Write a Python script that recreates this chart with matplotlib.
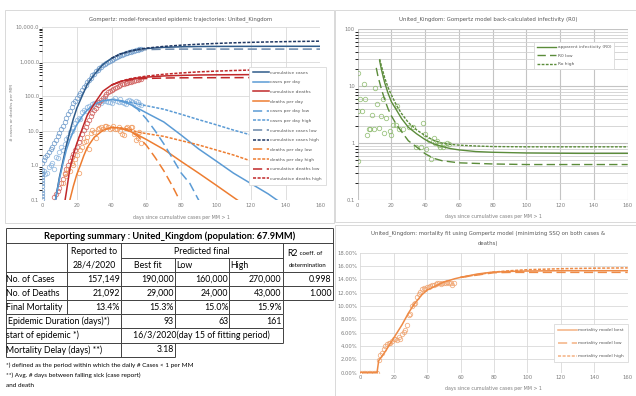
import numpy as np
import matplotlib
matplotlib.use('Agg')
from matplotlib import pyplot as plt
from matplotlib.ticker import FuncFormatter, FixedLocator, NullFormatter

W, H = 636, 396

# ---------------------------------------------------------------
# data (per MM values)
# ---------------------------------------------------------------
cum_cases_obs = [1.2, 1.4, 1.7, 2.0, 2.4, 2.9, 3.4, 4.3, 5.5, 7, 8.5, 11, 14, 18, 24,
                 30, 38, 50, 62, 75, 90, 110, 125, 150, 180, 210, 250, 290, 340, 400,
                 450, 520, 580, 640, 710, 790, 860, 930, 1000, 1070, 1140, 1210, 1290,
                 1370, 1440, 1510, 1580, 1650, 1720, 1790, 1860, 1930, 2000, 2060, 2120,
                 2180, 2240, 2310]
cases_day_obs = [0.6, 0.7, 0.55, 0.6, 0.9, 1.0, 1.2, 0.8, 1.8, 1.6, 2.4, 3.3, 2.8, 4.2,
                 5.8, 6.5, 9.5, 10, 12, 17, 20, 24, 22, 35, 40, 38, 48, 52, 45, 60, 62,
                 58, 70, 66, 62, 72, 85, 75, 66, 70, 62, 78, 86, 72, 66, 82, 70, 65, 60,
                 75, 80, 72, 68, 62, 74, 70, 58, 55]
day0_stack = [0.11, 0.13, 0.16, 0.2, 0.25, 0.3, 0.38, 0.47, 0.58, 0.75]
cum_deaths_obs = [0.12, 0.15, 0.18, 0.22, 0.3, 0.4, 0.55, 0.8, 1.0, 1.3, 1.7, 2.2, 2.8,
                  3.5, 4.6, 6, 8, 10.5, 13, 17, 21, 26, 32, 39, 46, 56, 66, 78, 90, 103,
                  116, 128, 141, 152, 165, 177, 188, 199, 210, 220, 229, 238, 248, 256,
                  265, 273, 282, 290, 297, 304, 310]          # days 7..57
deaths_day_obs = [0.3, 0.6, 0.5, 0.8, 0.7, 1.2, 1.0, 1.5, 2.0, 0.6, 2.8, 3.5, 4.8, 5.0,
                  6.5, 3.0, 8.5, 10.5, 9.0, 6.0, 11, 12, 13, 11.5, 13.5, 14, 12.5, 11,
                  12, 14, 11, 11.5, 12.5, 10, 8, 7.5, 12, 13, 11, 12.5, 13, 8, 5.5, 6,
                  9, 4.5]                                     # days 12..57

d_cc = [6, 8, 10, 12, 14, 16, 18, 20, 23, 26, 30, 35, 40, 45, 50, 55, 60, 70, 80, 90,
        100, 120, 140, 160]
cum_cases_best = [0.03, 0.12, 0.45, 1.3, 3.8, 9.5, 22, 45, 100, 220, 420, 820, 1250,
                  1650, 1950, 2200, 2380, 2580, 2680, 2730, 2750, 2760, 2770, 2770]
d_lh = [40, 45, 50, 55, 60, 70, 80, 90, 100, 110, 120, 130, 140, 150, 160]
cum_cases_low = [1250, 1640, 1920, 2120, 2220, 2280, 2300, 2300, 2300, 2300, 2300, 2300,
                 2300, 2300, 2300]
cum_cases_high = [1250, 1660, 1980, 2250, 2450, 2750, 2980, 3180, 3350, 3490, 3600,
                  3700, 3780, 3840, 3900]

d_cd = [12, 14, 16, 18, 20, 23, 26, 30, 35, 40, 45, 50, 55, 60, 70, 80, 90, 100, 120,
        140, 160]
cum_deaths_best = [0.04, 0.17, 0.8, 2.0, 4.3, 11, 28, 60, 140, 210, 265, 305, 335, 355,
                   385, 400, 410, 415, 420, 422, 423]
cum_deaths_low = [210, 262, 295, 315, 325, 335, 340, 342, 343, 344, 345, 345, 345, 345, 345]
cum_deaths_high = [210, 268, 315, 350, 380, 430, 470, 505, 530, 552, 570, 585, 598, 608, 615]

d_cpd = [6, 8, 10, 12, 14, 16, 18, 20, 23, 26, 30, 35, 40, 45, 50, 55, 60, 70, 80, 90,
         100, 110, 120, 130, 135, 140]
cases_day_best = [0.03, 0.12, 0.4, 1.1, 2.8, 5.5, 9.5, 15, 26, 40, 58, 74, 80, 74, 60,
                  45, 33, 18, 7.5, 3.0, 1.35, 0.6, 0.3, 0.15, 0.1, 0.07]
d_cpd_low = [45, 50, 55, 60, 65, 70, 75, 80, 85, 90, 92]
cases_day_low = [74, 62, 42, 22, 10, 4.2, 1.6, 0.6, 0.3, 0.1, 0.07]
d_cpd_high = [45, 50, 55, 60, 70, 80, 90, 100, 110, 120, 130, 140, 150, 160]
cases_day_high = [75, 68, 60, 53, 42, 30, 21, 15, 10.5, 7.6, 5.4, 3.9, 2.8, 2.0]

d_dpd = [14, 16, 18, 20, 22, 24, 26, 30, 35, 40, 45, 50, 55, 60, 70, 80, 90, 100, 110, 115]
deaths_day_best = [0.03, 0.1, 0.25, 0.55, 1.0, 1.9, 3.3, 6.5, 10.3, 12.5, 12, 10, 7.6,
                   5.6, 2.9, 1.3, 0.6, 0.27, 0.12, 0.08]
d_dpd_low = [45, 50, 55, 60, 65, 70, 75, 79, 82]
deaths_day_low = [11.8, 10, 7.0, 3.8, 1.7, 0.7, 0.25, 0.1, 0.06]
d_dpd_high = [45, 50, 55, 60, 70, 80, 90, 100, 110, 120, 130, 140, 150, 160]
deaths_day_high = [12.2, 11, 9.2, 8.3, 6.9, 5.2, 3.9, 2.8, 2.0, 1.35, 0.95, 0.67, 0.47, 0.33]

# R0 panel
r0_obs_day = [0.4, 3.5, 1.6, 4.5, 0, 2.5, 0, 10.4, 11.4, 14.8, 8.5, 13.8, 16.8, 6.5, 7.5,
              9.8, 5.5, 12.4, 15.4, 19.1, 19.7, 23.3, 20.7, 22.7, 24.7, 27, 30.2, 32.5,
              38.5, 34.5, 37.5, 40.5, 43.4, 40, 42.4, 45.4, 46, 48.4, 50.4, 51.4, 53,
              54.3, 49, 47]
r0_obs_val = [17.3, 10.8, 6.0, 6.0, 3.7, 3.7, 0.49, 9.2, 4.9, 5.9, 3.1, 3.0, 2.8, 1.74,
              1.74, 1.75, 1.38, 1.85, 1.49, 1.6, 1.38, 4.4, 2.1, 2.05, 1.74, 1.8, 1.93,
              1.9, 2.3, 0.87, 0.87, 0.78, 0.53, 1.45, 1.13, 1.25, 1.0, 0.94, 0.87, 0.98,
              1.0, 0.98, 0.87, 1.08]
r0_day = [13, 14, 15, 16, 18, 20, 23, 26, 30, 35, 40, 45, 50, 55, 60, 70, 80, 100, 130, 160]
r0_best = [28, 20, 15, 11.5, 7.5, 5.3, 3.8, 2.7, 1.9, 1.45, 1.15, 0.97, 0.87, 0.8, 0.76,
           0.71, 0.69, 0.67, 0.66, 0.66]
r0_low_day = [11, 12, 14, 16, 18, 20, 23, 27, 30, 35, 40, 45, 50, 60, 80, 100, 160]
r0_low = [21, 15, 9, 5.8, 4, 3, 2.1, 1.45, 1.1, 0.85, 0.65, 0.54, 0.49, 0.45, 0.43, 0.42, 0.42]
r0_high_day = [13, 14, 16, 18, 20, 23, 26, 30, 35, 40, 45, 50, 55, 60, 70, 80, 100, 160]
r0_high = [30, 23, 14, 9.5, 7, 4.6, 3.3, 2.3, 1.7, 1.35, 1.12, 1.0, 0.95, 0.92, 0.89,
           0.87, 0.86, 0.86]

# mortality panel (%)
mort_obs = [0, 0, 0, 0, 0, 0, 0, 0, 0, 0, 0, 1.9, 2.6, 3.0, 3.6, 4.0, 4.3, 4.5, 4.4, 4.8,
            5.0, 5.1, 4.9, 5.3, 5.0, 5.8, 6.1, 6.4, 7.1, 8.6, 8.8, 10.0, 10.3, 10.5, 11.3,
            11.8, 12.1, 12.5, 12.7, 12.6, 12.8, 12.9, 13.0, 13.1, 13.2, 13.3, 13.5, 13.4,
            13.3, 13.4, 13.5, 13.4, 13.6, 13.5, 13.4, 13.2, 13.4]
mort_day = [0, 10, 11, 15, 20, 25, 28.7, 32, 36.7, 40, 46.6, 50, 56.6, 60, 70, 78.5, 90,
            100, 120, 160]
mort_best = [0, 0, 1.8, 3.2, 5.2, 7.2, 8.9, 10.2, 11.65, 12.4, 13.2, 13.6, 14.1, 14.3,
             14.8, 15.07, 15.2, 15.25, 15.3, 15.3]
mort_lh_day = [70, 80, 90, 100, 120, 140, 160]
mort_low = [14.8, 15.0, 15.05, 15.05, 15.05, 15.05, 15.05]
mort_high = [14.8, 15.1, 15.3, 15.45, 15.6, 15.68, 15.72]

# table
table_title = 'Reporting summary : United_Kingdom (population: 67.9MM)'
row_labels = ['No. of Cases', 'No. of Deaths', 'Final Mortality']
reported = ['157,149', '21,092', '13.4%']
best_fit = ['190,000', '29,000', '15.3%']
low_fit = ['160,000', '24,000', '15.0%']
high_fit = ['270,000', '43,000', '15.9%']
r2_vals = ['0.998', '1.000']
duration = ['93', '63', '161']
start_text = '16/3/2020(day 15 of fitting period)'
delay_text = '3.18'
footnotes = ['*) defined as the period within which the daily # Cases < 1 per MM',
             '**) Avg. # days between falling sick (case report)',
             'and death']

# ---------------------------------------------------------------
GRAY = '#595959'
GRID = '#d9d9d9'
TFONT = ['Lato', 'DejaVu Sans']


def rect(x0, y0, x1, y1):
    return [x0 / W, 1 - y1 / H, (x1 - x0) / W, (y1 - y0) / H]


def style(ax):
    for s in ax.spines.values():
        s.set_visible(False)
    ax.tick_params(length=0, labelsize=3.8, labelcolor='#7f7f7f', pad=2)
    ax.grid(True, which='major', color=GRID, lw=0.6)
    ax.set_axisbelow(True)


fig = plt.figure(figsize=(W / 100, H / 100), dpi=100)

bg = fig.add_axes([0, 0, 1, 1])
bg.set_xlim(0, W)
bg.set_ylim(H, 0)
bg.axis('off')
for (x0, y0, x1, y1) in [(5, 10, 334, 223), (335, 10, 636, 222), (335, 225, 636, 396)]:
    bg.add_patch(plt.Rectangle((x0, y0), x1 - x0, y1 - y0, fill=False, ec=GRID, lw=0.7))

# ------------------ top-left: trajectories ------------------
ax1 = fig.add_axes(rect(42, 27, 320.4, 200))
style(ax1)
ax1.set_yscale('log')
ax1.set_xlim(0, 160)
ax1.set_ylim(0.1, 10000)
ax1.xaxis.set_major_locator(FixedLocator(range(0, 161, 20)))
ax1.yaxis.set_major_locator(FixedLocator([0.1, 1, 10, 100, 1000, 10000]))
ax1.yaxis.set_minor_formatter(NullFormatter())
ax1.yaxis.set_major_formatter(FuncFormatter(lambda v, p: '{:,.1f}'.format(v)))

C_CUM = '#2f5b8a'
C_CPD = '#5b9bd5'
C_DEA = '#c0282a'
C_DPD = '#ed7d31'

mk = dict(marker='o', ls='none', mfc='none', ms=3.2, mew=0.6, alpha=0.85)
ax1.plot(range(len(cum_cases_obs)), cum_cases_obs, color='#6f9bcb', **mk)
ax1.plot(range(len(cases_day_obs)), cases_day_obs, color='#8db6df', **mk)
ax1.plot([0] * len(day0_stack), day0_stack, color='#6f9bcb', **mk)
ax1.plot(range(7, 7 + len(cum_deaths_obs)), cum_deaths_obs, color='#d0605e', **mk)
ax1.plot(range(12, 12 + len(deaths_day_obs)), deaths_day_obs, color='#f19a5e', **mk)

lw = 1.1
h = []
h += ax1.plot(d_cc, cum_cases_best, color=C_CUM, lw=lw, label='cumulative cases')
h += ax1.plot(d_cpd, cases_day_best, color=C_CPD, lw=lw, label='cases per day')
h += ax1.plot(d_cd, cum_deaths_best, color=C_DEA, lw=lw, label='cumulative deaths')
h += ax1.plot(d_dpd, deaths_day_best, color=C_DPD, lw=lw, label='deaths per day')
h += ax1.plot(d_cpd_low, cases_day_low, color=C_CPD, lw=lw, dashes=(6, 3), label='cases per day low')
h += ax1.plot(d_cpd_high, cases_day_high, color=C_CPD, lw=lw, dashes=(2, 1), label='cases per day high')
h += ax1.plot(d_lh, cum_cases_low, color='#6a87aa', lw=lw, dashes=(6, 3), label='cumulative cases low')
h += ax1.plot(d_lh, cum_cases_high, color='#1f3864', lw=lw, dashes=(2, 1), label='cumulative cases high')
h += ax1.plot(d_dpd_low, deaths_day_low, color=C_DPD, lw=lw, dashes=(6, 3), label='deaths per day low')
h += ax1.plot(d_dpd_high, deaths_day_high, color=C_DPD, lw=lw, dashes=(2, 1), label='deaths per day high')
h += ax1.plot(d_lh, cum_deaths_low, color=C_DEA, lw=lw, dashes=(6, 3), label='cumulative deaths low')
h += ax1.plot(d_lh, cum_deaths_high, color=C_DEA, lw=lw, dashes=(2, 1), label='cumulative deaths high')

leg = fig.legend(handles=h, loc='upper left', bbox_to_anchor=(249 / W, 1 - 67 / H),
                 fontsize=3.2, labelcolor=GRAY, frameon=True, fancybox=False,
                 edgecolor=GRID, framealpha=1, handlelength=3.6, handletextpad=0.4,
                 labelspacing=1.25, borderpad=0.8, borderaxespad=0)
leg.get_frame().set_linewidth(0.6)

fig.text(181 / W, 1 - 19 / H, 'Gompertz: model-forecasted epidemic trajectories: United_Kingdom',
         ha='center', va='center', fontsize=3.9, color=GRAY)
fig.text(12 / W, 1 - 113 / H, '# cases or deaths per MM', rotation=90, ha='center',
         va='center', fontsize=3.2, color='#7f7f7f')
fig.text(181 / W, 1 - 217 / H, 'days since cumulative cases per MM > 1', ha='center',
         va='center', fontsize=3.4, color='#7f7f7f')

# ------------------ top-right: R0 ------------------
ax2 = fig.add_axes(rect(357.7, 29.3, 627.7, 200))
style(ax2)
ax2.set_yscale('log')
ax2.set_xlim(0, 160)
ax2.set_ylim(0.1, 100)
ax2.xaxis.set_major_locator(FixedLocator(range(0, 161, 20)))
ax2.yaxis.set_major_locator(FixedLocator([0.1, 1, 10, 100]))
ax2.yaxis.set_major_formatter(FuncFormatter(lambda v, p: '{:g}'.format(v)))
ax2.yaxis.set_minor_formatter(NullFormatter())
ax2.grid(True, which='minor', axis='y', color='#d0d0d0', lw=0.6)
ax2.grid(True, which='major', color='#c4c4c4', lw=0.8)

G_LINE = '#5b8c3a'
ax2.plot(r0_obs_day, r0_obs_val, color='#8cba6c', **mk)
g = []
g += ax2.plot(r0_day, r0_best, color=G_LINE, lw=1.0, label='apparent infectivity (R0)')
g += ax2.plot(r0_low_day, r0_low, color=G_LINE, lw=1.0, dashes=(6, 3), label='R0 low')
g += ax2.plot(r0_high_day, r0_high, color=G_LINE, lw=1.0, dashes=(2, 1), label='Ro high')
leg2 = fig.legend(handles=g, loc='upper left', bbox_to_anchor=(534 / W, 1 - 42 / H),
                  fontsize=3.2, labelcolor=GRAY, frameon=True, fancybox=False,
                  edgecolor=GRID, framealpha=1, handlelength=4.2, handletextpad=0.4,
                  labelspacing=1.0, borderpad=0.7, borderaxespad=0)
leg2.get_frame().set_linewidth(0.6)
fig.text(488 / W, 1 - 19 / H, 'United_Kingdom: Gompertz model back-calculated infectivity (R0)',
         ha='center', va='center', fontsize=3.9, color=GRAY)
fig.text(493 / W, 1 - 216.7 / H, 'days since cumulative cases per MM > 1', ha='center',
         va='center', fontsize=3.4, color='#7f7f7f')

# ------------------ bottom-right: mortality ------------------
ax3 = fig.add_axes(rect(360.3, 252.7, 627.7, 372.7))
style(ax3)
ax3.set_xlim(0, 160)
ax3.set_ylim(0, 18)
ax3.xaxis.set_major_locator(FixedLocator(range(0, 161, 20)))
ax3.yaxis.set_major_locator(FixedLocator(range(0, 19, 2)))
ax3.yaxis.set_major_formatter(FuncFormatter(lambda v, p: '{:.2f}%'.format(v)))
O_LINE = '#ee8a45'
ax3.plot(range(len(mort_obs)), mort_obs, color='#f0a36e', **mk)
m = []
m += ax3.plot(mort_day, mort_best, color=O_LINE, lw=1.1, label='mortality model best')
m += ax3.plot([mort_day[-1 - 6]] + mort_lh_day[1:], [mort_best[-1 - 6]] + mort_low[1:],
              color=O_LINE, lw=1.1, dashes=(6, 3), label='mortality model low')
m += ax3.plot([mort_day[-1 - 6]] + mort_lh_day[1:], [mort_best[-1 - 6]] + mort_high[1:],
              color=O_LINE, lw=1.1, dashes=(2, 1), label='mortality model high')
leg3 = fig.legend(handles=m, loc='upper left', bbox_to_anchor=(554 / W, 1 - 324.3 / H),
                  fontsize=3.2, labelcolor=GRAY, frameon=True, fancybox=False,
                  edgecolor=GRID, framealpha=1, handlelength=4.2, handletextpad=0.4,
                  labelspacing=2.0, borderpad=0.9, borderaxespad=0)
leg3.get_frame().set_linewidth(0.6)
for ln in leg3.get_lines():
    ln.set_color('#f4b183')
fig.text(488 / W, 1 - 233 / H,
         'United_Kingdom: mortality fit using Gompertz model (minimizing SSQ on both cases &',
         ha='center', va='center', fontsize=3.9, color=GRAY)
fig.text(488 / W, 1 - 243 / H, 'deaths)', ha='center', va='center', fontsize=3.9, color=GRAY)
fig.text(493 / W, 1 - 388.3 / H, 'days since cumulative cases per MM > 1', ha='center',
         va='center', fontsize=3.4, color='#7f7f7f')

# ------------------ table (bottom-left) ------------------
cx = [6, 66.7, 121, 175, 229.3, 282.7, 332.5]
ry = [228.3, 243.3, 272.3, 286, 300, 314, 328.3, 342.7, 357]
split_y = 258.3
LC = '#404040'
tlw = 0.7


def hl(y, x0, x1):
    bg.plot([x0, x1], [y, y], color=LC, lw=tlw, solid_capstyle='butt')


def vl(x, y0, y1):
    bg.plot([x, x], [y0, y1], color=LC, lw=tlw, solid_capstyle='butt')


for y in ry[:5]:
    hl(y, cx[0], cx[6])
for y in ry[5:8]:
    hl(y, cx[0], cx[5])
hl(ry[8], cx[0], cx[3])
hl(split_y, cx[2], cx[5])
vl(cx[0], ry[0], ry[8])
vl(cx[6], ry[0], ry[4])
for x in (cx[1], cx[2], cx[5]):
    vl(x, ry[1], ry[2])
for x in (cx[3], cx[4]):
    vl(x, split_y, ry[2])
for x in cx[1:6]:
    vl(x, ry[2], ry[4])
for x in cx[1:6]:
    vl(x, ry[4], ry[5])
for x in cx[2:6]:
    vl(x, ry[5], ry[6])
for x in (cx[2], cx[5]):
    vl(x, ry[6], ry[7])
for x in (cx[2], cx[3]):
    vl(x, ry[7], ry[8])

FS = 6.3
tk = dict(family=TFONT, color='black', va='center')
bg.text((cx[0] + cx[6]) / 2, (ry[0] + ry[1]) / 2, table_title, ha='center',
        fontsize=6.7, fontweight='bold', **tk)
bg.text((cx[1] + cx[2]) / 2, 251.3, 'Reported to', ha='center', fontsize=FS, **tk)
bg.text((cx[1] + cx[2]) / 2, 265.3, '28/4/2020', ha='center', fontsize=FS, **tk)
bg.text((cx[2] + cx[5]) / 2, 251, 'Predicted final', ha='center', fontsize=FS, **tk)
bg.text((cx[2] + cx[3]) / 2, 265.3, 'Best fit', ha='center', fontsize=FS, **tk)
bg.text(cx[3] + 1, 265.3, 'Low', ha='left', fontsize=FS, **tk)
bg.text(cx[4] + 1, 265.3, 'High', ha='left', fontsize=FS, **tk)
bg.text(298, 253, 'R2', ha='right', fontsize=FS, **tk)
bg.text(298, 253.5, ' coeff. of', ha='left', fontsize=4.4, **tk)
bg.text((cx[5] + cx[6]) / 2, 265.5, 'determination', ha='center', fontsize=4.4, **tk)

for i, lab in enumerate(row_labels):
    yc = (ry[2 + i] + ry[3 + i]) / 2
    bg.text(cx[0] + 0.5, yc, lab, ha='left', fontsize=FS, **tk)
    for j, col in enumerate([reported, best_fit, low_fit, high_fit]):
        bg.text(cx[2 + j] - 1, yc, col[i], ha='right', fontsize=FS, **tk)
    if i < len(r2_vals):
        bg.text(cx[6] - 1, yc, r2_vals[i], ha='right', fontsize=FS, **tk)

yc = (ry[5] + ry[6]) / 2
bg.text(cx[0] + 2.5, yc, 'Epidemic Duration (days)*)', ha='left', fontsize=FS, **tk)
for j, v in enumerate(duration):
    bg.text(cx[3 + j] - 1, yc, v, ha='right', fontsize=FS, **tk)
yc = (ry[6] + ry[7]) / 2
bg.text(cx[0] + 0.5, yc, 'start of epidemic *)', ha='left', fontsize=FS, **tk)
bg.text((cx[2] + cx[5]) / 2, yc, start_text, ha='center', fontsize=FS, **tk)
yc = (ry[7] + ry[8]) / 2
bg.text(cx[0] + 0.5, yc, 'Mortality Delay (days) **)', ha='left', fontsize=FS, **tk)
bg.text(cx[3] - 1, yc, delay_text, ha='right', fontsize=FS, **tk)

for k, t in enumerate(footnotes):
    bg.text(6, 365.7 + 9.7 * k, t, ha='left', fontsize=4.6, **tk)

fig.savefig('out.png', dpi=100)
